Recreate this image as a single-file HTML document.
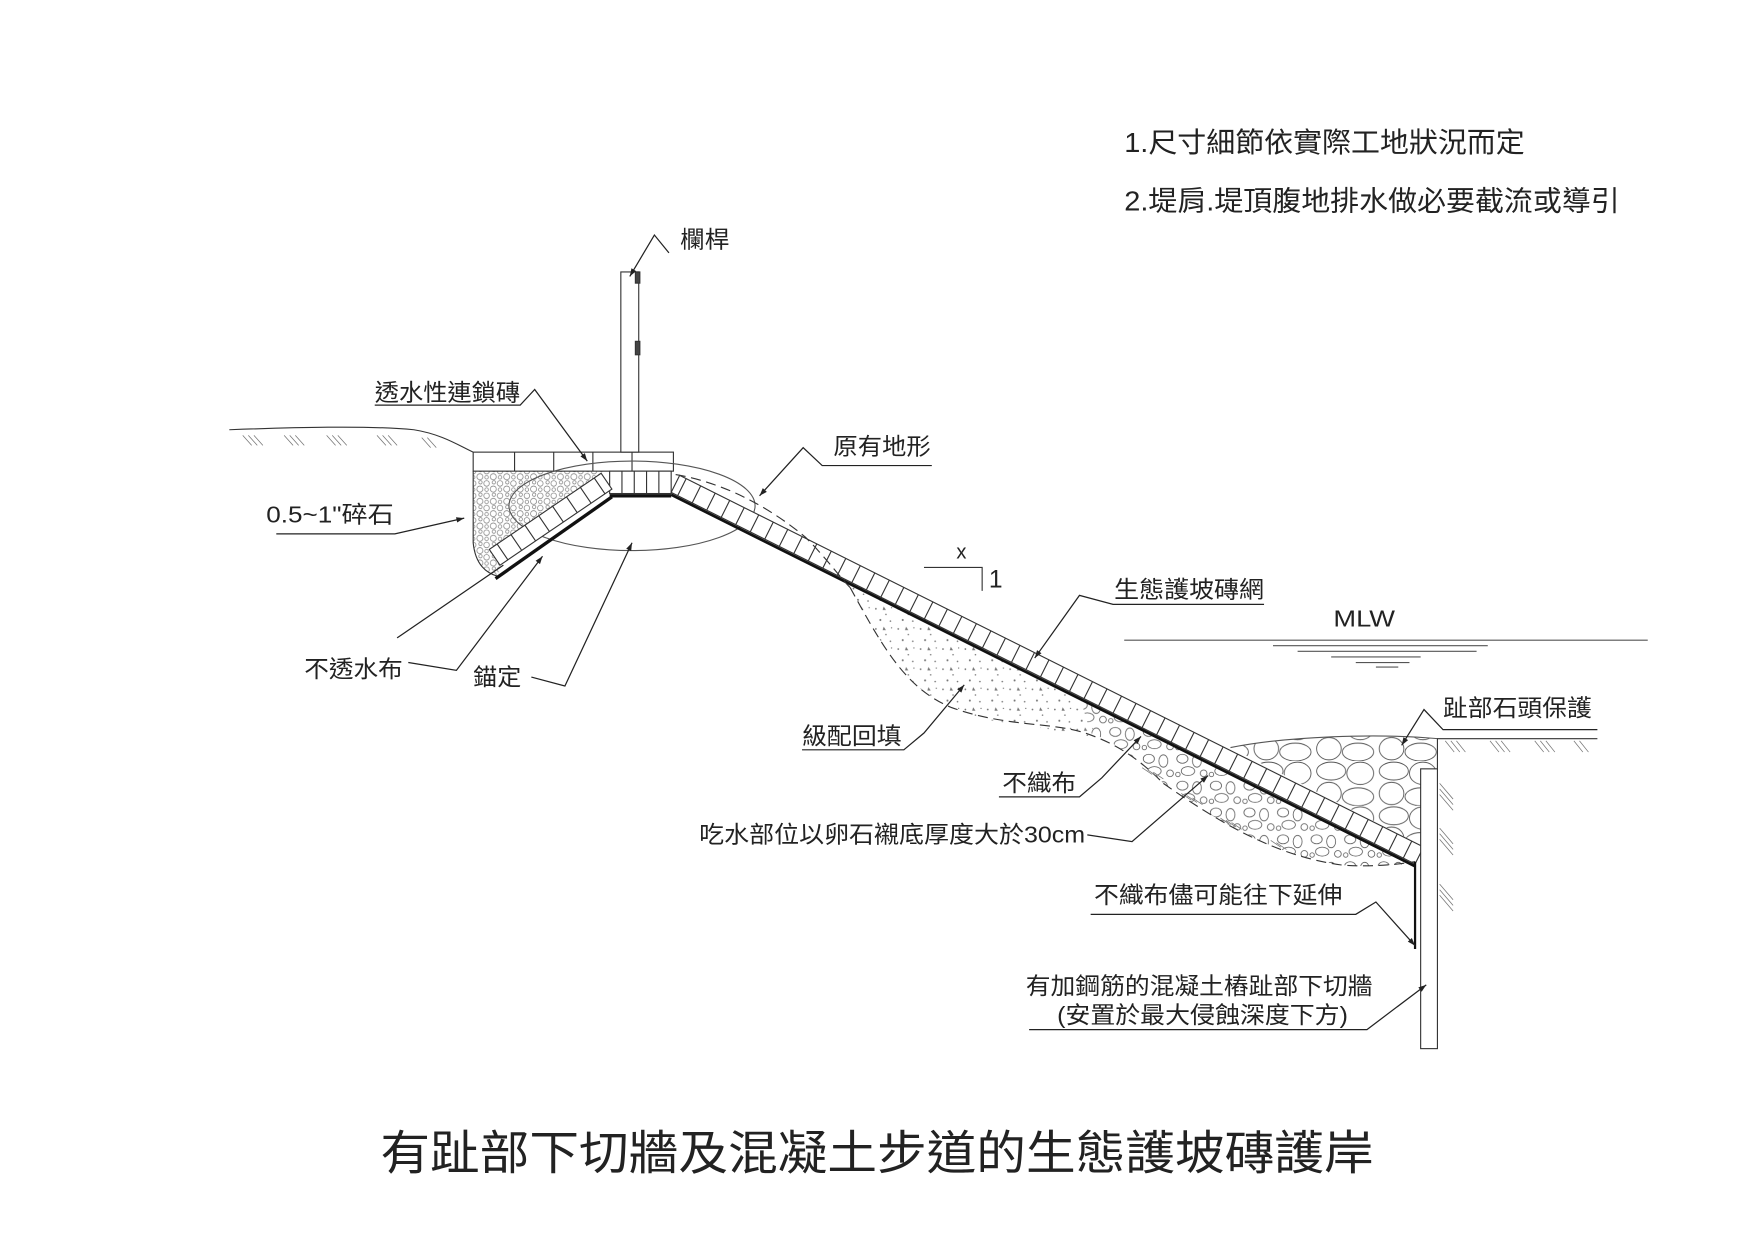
<!DOCTYPE html>
<html><head><meta charset="utf-8"><style>
html,body{margin:0;padding:0;background:#fff}
svg{display:block}
text{font-family:"Liberation Sans","Noto Sans CJK TC",sans-serif;fill:#222}
</style></head><body>
<svg width="1754" height="1240" viewBox="0 0 1568 1108" preserveAspectRatio="none" xmlns="http://www.w3.org/2000/svg">
<defs>
<marker id="a" viewBox="0 0 10 10" refX="10" refY="5" markerWidth="9" markerHeight="7" orient="auto-start-reverse" markerUnits="userSpaceOnUse"><path d="M0,1.5L10,5L0,8.5z" fill="#222"/></marker>
<pattern id="pg" patternUnits="userSpaceOnUse" width="12" height="11">
<g fill="none" stroke="#777" stroke-width="0.6"><circle cx="3" cy="3" r="2.5"/><circle cx="9" cy="8" r="2.7"/><circle cx="9.5" cy="2" r="1.5"/><circle cx="3" cy="8.5" r="1.6"/></g></pattern>
<pattern id="pd" patternUnits="userSpaceOnUse" width="20" height="18">
<g fill="#777"><circle cx="3" cy="4" r="0.8"/><circle cx="12" cy="9" r="0.7"/><circle cx="7" cy="14" r="0.9"/><circle cx="17" cy="3" r="0.6"/><circle cx="16" cy="15" r="0.7"/><path d="M10,2l2,3h-3z"/></g></pattern>
<pattern id="pc" patternUnits="userSpaceOnUse" width="30" height="24">
<g fill="none" stroke="#555" stroke-width="0.7"><ellipse cx="7" cy="6" rx="5" ry="4"/><ellipse cx="20" cy="8" rx="4" ry="5.5"/><ellipse cx="12" cy="17" rx="6" ry="4"/><ellipse cx="26" cy="19" rx="3" ry="3"/><circle cx="3" cy="20" r="2"/></g></pattern>
<pattern id="ps" patternUnits="userSpaceOnUse" width="56" height="40">
<g fill="none" stroke="#555" stroke-width="0.8"><ellipse cx="14" cy="9" rx="13" ry="8"/><ellipse cx="40" cy="11" rx="12" ry="10"/><ellipse cx="12" cy="29" rx="11" ry="10"/><ellipse cx="38" cy="32" rx="14" ry="8"/></g></pattern>
</defs>
<!-- fills -->
<path d="M423,421 L540,421 L437,491 L447,505 L445,515 C435,512 425,505 423,485 Z" fill="url(#pg)"/>
<path d="M740,510 L960,620 L985,665 C940,645 880,650 850,632 C810,615 790,580 760,525 Z" fill="url(#pd)"/>
<path d="M965,622 L1265,772 C1250,772 1230,775 1200,773 C1140,765 1090,735 1040,700 C1020,680 1000,665 975,655 Z" fill="url(#pc)"/>
<path d="M1100,668 C1150,658 1230,655 1285,660 L1285,687 L1270,687 L1270,757 L1262,751 Z" fill="url(#ps)"/>
<g fill="none" stroke="#333" stroke-width="1">
<path d="M205,384 C260,382 330,380 370,384 C395,388 410,398 423,404"/>
<rect x="423" y="404" width="179" height="17" fill="#fff"/>
<path d="M460,404V421M495,404V421M530,404V421M565,404V421"/>
<rect x="555" y="243" width="16" height="161" fill="#fff"/>
<rect x="568" y="243" width="4" height="10" fill="#444"/><rect x="568" y="305" width="4" height="12" fill="#444"/>
<path d="M423,421 L423,485 C425,505 435,512 445,515"/>
<ellipse cx="565" cy="452" rx="110" ry="40" stroke="#555"/>
<!-- flat bricks -->
<rect x="545" y="421" width="55" height="20" fill="#fff"/>
<path d="M556,421V441M567,421V441M578,421V441M589,421V441"/>
<path d="M545,443H600" stroke="#111" stroke-width="3"/>
<!-- left pit slope bricks -->
<path d="M447,505 L547,437 L537.4,422.9 L437.4,490.9 Z" fill="#fff"/>
<path d="M442.2,498 L542.2,430" stroke-width="17" stroke-dasharray="1 14" stroke-dashoffset="-8"/>
<path d="M443,517 L547,444" stroke="#111" stroke-width="3"/>
<!-- long slope bricks -->
<path d="M600,440 L1265,772 L1272.6,756.8 L607.6,424.8 Z" fill="#fff"/>
<path d="M603.8,432.4 L1268.8,764.4" stroke-width="17" stroke-dasharray="1 13.5" stroke-dashoffset="-6"/>
<path d="M600,442 L1265,774" stroke="#111" stroke-width="2.5"/>
<!-- dashed original terrain -->
<path d="M604,424 C650,432 690,455 720,480 C740,500 750,515 760,525" stroke-dasharray="9,5"/>
<path d="M760,525 C790,580 810,615 850,632 C900,650 940,645 970,655 C1000,665 1020,680 1040,700" stroke-dasharray="9,5"/>
<path d="M1040,700 C1090,735 1140,765 1200,773 C1230,775 1250,772 1265,770" stroke-dasharray="9,5"/>
<!-- toe -->
<path d="M1100,668 C1150,658 1230,655 1285,660" stroke="#555"/>
<rect x="1270" y="687" width="15" height="250" fill="#fff"/>
<path d="M1265,770 V848" stroke="#111" stroke-width="2"/>
<path d="M1285,687 V660 H1428"/>
<!-- MLW -->
<path d="M1005,572H1473M1138,577H1330M1160,582H1320M1190,587H1270M1212,592H1260M1230,596H1250" stroke="#555"/>
<path d="M826,507H878V528"/>
</g>
<!-- hatching -->
<g stroke="#777" stroke-width="0.7" fill="none">
<path d="M225,398l-8,-9M230,398l-8,-9M235,398l-8,-9M262,398l-8,-9M267,398l-8,-9M272,398l-8,-9M300,398l-8,-9M305,398l-8,-9M310,398l-8,-9M345,398l-8,-9M350,398l-8,-9M355,398l-8,-9M385,400l-8,-9M390,400l-8,-9"/>
<path d="M1300,672l-8,-10M1305,672l-8,-10M1310,672l-8,-10M1340,672l-8,-10M1345,672l-8,-10M1350,672l-8,-10M1380,672l-8,-10M1385,672l-8,-10M1390,672l-8,-10M1415,672l-8,-10M1420,672l-8,-10"/>
<path d="M1287,700l12,14M1287,705l12,14M1287,710l12,14M1287,740l12,14M1287,745l12,14M1287,750l12,14M1287,790l12,14M1287,795l12,14M1287,800l12,14"/>
<path d="M1030,692l-9,-6M1035,694l-9,-6M1040,696l-9,-6M1065,715l-9,-6M1070,717l-9,-6M1075,719l-9,-6M1100,737l-9,-6M1105,739l-9,-6M1110,741l-9,-6M1145,757l-9,-6M1150,759l-9,-6"/>
</g>
<!-- leaders -->
<g fill="none" stroke="#222" stroke-width="1.1">
<path d="M598,226 L585,210 L563,247" marker-end="url(#a)"/>
<path d="M335,362 H465 L478,348 L525,412" marker-end="url(#a)"/>
<path d="M833,416 H735 L718,400 L679,443" marker-end="url(#a)"/>
<path d="M247,477 H353 L415,463" marker-end="url(#a)"/>
<path d="M355,570 L450,505"/>
<path d="M365,592 L408,599 L485,497" marker-end="url(#a)"/>
<path d="M475,605 L505,613 L565,485" marker-end="url(#a)"/>
<path d="M1130,540 H995 L965,532 L925,588" marker-end="url(#a)"/>
<path d="M717,670 H808 L826,655 L862,612" marker-end="url(#a)"/>
<path d="M893,712 H965 L985,695 L1020,658" marker-end="url(#a)"/>
<path d="M972,746 L1012,752 L1080,693" marker-end="url(#a)"/>
<path d="M1428,652 H1290 L1273,634 L1253,666" marker-end="url(#a)"/>
<path d="M975,817 H1212 L1230,806 L1265,845" marker-end="url(#a)"/>
<path d="M920,920 H1222 L1275,880" marker-end="url(#a)"/>
</g>
<g font-size="21" lengthAdjust="spacingAndGlyphs">
<text x="608" y="221" textLength="44" lengthAdjust="spacingAndGlyphs">欄桿</text>
<text x="335" y="358" textLength="130" lengthAdjust="spacingAndGlyphs">透水性連鎖磚</text>
<text x="745" y="406" textLength="87" lengthAdjust="spacingAndGlyphs">原有地形</text>
<text x="238" y="467" textLength="114" lengthAdjust="spacingAndGlyphs">0.5~1"碎石</text>
<text x="272" y="605" textLength="88" lengthAdjust="spacingAndGlyphs">不透水布</text>
<text x="423" y="612" textLength="43" lengthAdjust="spacingAndGlyphs">錨定</text>
<text x="855" y="499" font-size="18">x</text>
<text x="884" y="525" font-size="22">1</text>
<text x="996" y="534" textLength="134" lengthAdjust="spacingAndGlyphs">生態護坡磚網</text>
<text x="1192" y="560" textLength="55" lengthAdjust="spacingAndGlyphs">MLW</text>
<text x="717" y="665" textLength="89" lengthAdjust="spacingAndGlyphs">級配回填</text>
<text x="896" y="707" textLength="66" lengthAdjust="spacingAndGlyphs">不織布</text>
<text x="625" y="753" textLength="345" lengthAdjust="spacingAndGlyphs">吃水部位以卵石襯底厚度大於30cm</text>
<text x="1290" y="640" textLength="133" lengthAdjust="spacingAndGlyphs">趾部石頭保護</text>
<text x="978" y="807" textLength="222" lengthAdjust="spacingAndGlyphs">不織布儘可能往下延伸</text>
<text x="917" y="888" textLength="310" lengthAdjust="spacingAndGlyphs">有加鋼筋的混凝土樁趾部下切牆</text>
<text x="945" y="914" textLength="260" lengthAdjust="spacingAndGlyphs">(安置於最大侵蝕深度下方)</text>
<text x="1005" y="136" font-size="25" textLength="358" lengthAdjust="spacingAndGlyphs">1.尺寸細節依實際工地狀況而定</text>
<text x="1005" y="188" font-size="25" textLength="443" lengthAdjust="spacingAndGlyphs">2.堤肩.堤頂腹地排水做必要截流或導引</text>
<text x="340" y="1045" font-size="42" textLength="888" lengthAdjust="spacingAndGlyphs">有趾部下切牆及混凝土步道的生態護坡磚護岸</text>
</g>
</svg>
</body></html>
